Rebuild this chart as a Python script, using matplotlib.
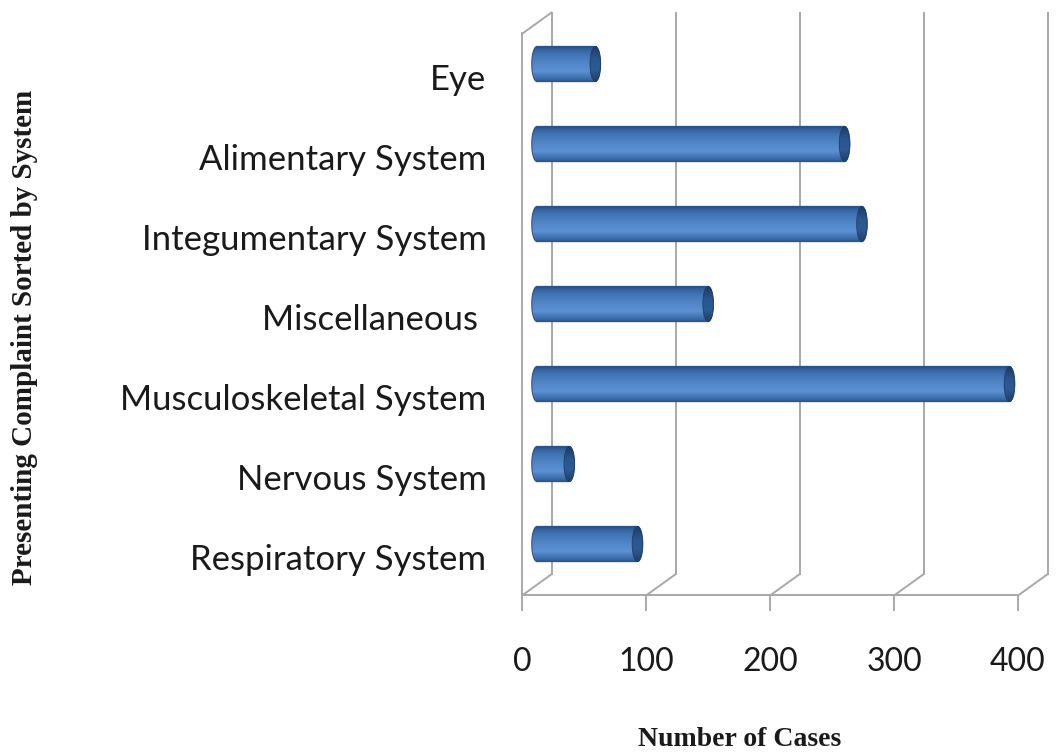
import numpy as np
import matplotlib
matplotlib.use("Agg")
import matplotlib.pyplot as plt
from matplotlib.path import Path
from matplotlib.patches import PathPatch, Ellipse
from matplotlib.colors import LinearSegmentedColormap
from matplotlib.transforms import ScaledTranslation

categories = ["Respiratory System", "Nervous System", "Musculoskeletal System",
              "Miscellaneous ", "Integumentary System", "Alimentary System", "Eye"]
cases = [81, 26, 381, 138, 262, 248, 47]
xticks = [0, 100, 200, 300, 400]
xticklabels = ["0", "100", "200", "300", "400"]

W, H = 1057, 755
DPI = 100
fig = plt.figure(figsize=(W / DPI, H / DPI), dpi=DPI)

# main axes (mid-depth plane): px = 537 + 1.24*v ; py = 544 - 80*i
XLIM = (-25, 415)
YLIM = (-0.9, 6.75)
ax = fig.add_axes([506 / W, 1 - 616 / H, 545.6 / W, 612 / H])
ax.set_xlim(*XLIM)
ax.set_ylim(*YLIM)
for s in ax.spines.values():
    s.set_visible(False)
ax.set_xticks([])
ax.patch.set_alpha(0)

# depth (half) offsets in data units
DX = 11.7
DY = 0.131
grid_c = "#a8a8a8"
lw = 1.4
ybot, ytop = -0.509, 6.5125
for v in xticks:
    ax.plot([v + DX, v + DX], [ybot + DY, ytop + DY], color=grid_c, lw=lw, zorder=1)
    ax.plot([v - DX, v + DX], [ybot - DY, ybot + DY], color=grid_c, lw=lw, zorder=1)
    ax.plot([v - DX, v - DX], [ybot - DY, ybot - DY - 0.18], color=grid_c, lw=lw, zorder=1)
ax.plot([xticks[0] - DX, xticks[-1] - DX], [ybot - DY, ybot - DY], color=grid_c, lw=lw, zorder=1)
ax.plot([-DX, -DX], [ybot - DY, ytop - DY], color=grid_c, lw=lw, zorder=1)
ax.plot([-DX, DX], [ytop - DY, ytop + DY], color=grid_c, lw=lw, zorder=1)

# cylinder bars
body_cmap = LinearSegmentedColormap.from_list(
    "body", [(0.0, "#244a79"), (0.07, "#3868a5"), (0.3, "#5b90d2"),
             (0.5, "#5287c9"), (0.78, "#4073b3"), (0.92, "#33619b"), (1.0, "#22446d")])
cap_cmap = LinearSegmentedColormap.from_list(
    "cap", [(0.0, "#1f3f68"), (0.35, "#2c5a93"), (0.65, "#2a568c"), (1.0, "#1d3a60")])
grad = np.linspace(0, 1, 256).reshape(-1, 1)
bh = 0.44
ew = 8.5
for i, v in enumerate(cases):
    y = i
    t1 = np.linspace(np.pi / 2, 3 * np.pi / 2, 40)
    t2 = np.linspace(-np.pi / 2, np.pi / 2, 40)
    xs = np.concatenate([ew / 2 * np.cos(t1), v + ew / 2 * np.cos(t2)])
    ys = np.concatenate([y + bh / 2 * np.sin(t1), y + bh / 2 * np.sin(t2)])
    verts = np.column_stack([xs, ys])
    verts = np.vstack([verts, verts[:1]])
    path = Path(verts, closed=True)
    patch = PathPatch(path, facecolor="none", edgecolor="#2a5587", lw=0.8, zorder=4)
    ax.add_patch(patch)
    im = ax.imshow(grad, cmap=body_cmap, extent=[-ew / 2, v + ew / 2, y + bh / 2, y - bh / 2],
                   aspect="auto", zorder=3, interpolation="bilinear")
    im.set_clip_path(patch)
    cap = Ellipse((v, y), ew, bh, facecolor="none", edgecolor="#1f3f68", lw=0.6, zorder=6)
    ax.add_patch(cap)
    im2 = ax.imshow(grad, cmap=cap_cmap, extent=[v - ew / 2, v + ew / 2, y + bh / 2, y - bh / 2],
                    aspect="auto", zorder=5, interpolation="bilinear")
    im2.set_clip_path(cap)

ax.set_xlim(*XLIM)
ax.set_ylim(*YLIM)

# category labels (front plane, shifted down)
ax.set_yticks(range(len(categories)))
ax.set_yticklabels(categories, fontfamily="Lato", fontsize=25, color="#1a1a1a")
ax.tick_params(axis="y", length=0, pad=14)
shift = ScaledTranslation(0, -13 / DPI, fig.dpi_scale_trans)
for lab in ax.get_yticklabels():
    lab.set_transform(lab.get_transform() + shift)

# value tick labels on the front plane
ax2 = fig.add_axes([522 / W, 1 - 662 / H, (1018 - 522) / W, 0.0001])
ax2.set_xlim(xticks[0], xticks[-1])
ax2.set_yticks([])
for s in ax2.spines.values():
    s.set_visible(False)
ax2.patch.set_alpha(0)
ax2.set_xticks(xticks)
ax2.set_xticklabels(xticklabels, fontfamily="Lato", fontsize=23, color="#1a1a1a")
ax2.tick_params(axis="x", length=0, pad=0)
for lab in ax2.get_xticklabels():
    lab.set_va("center")

fig.text(740 / W, 1 - 739 / H, "Number of Cases", fontfamily="Liberation Serif",
         fontweight="bold", fontsize=20, ha="center", va="center", color="#1a1a1a")
fig.text(25 / W, 1 - 337 / H, "Presenting Complaint Sorted by System", fontfamily="Liberation Serif",
         fontweight="bold", fontsize=21, ha="center", va="center", rotation=90, color="#1a1a1a")

fig.savefig("out.png", dpi=DPI, facecolor="white")
